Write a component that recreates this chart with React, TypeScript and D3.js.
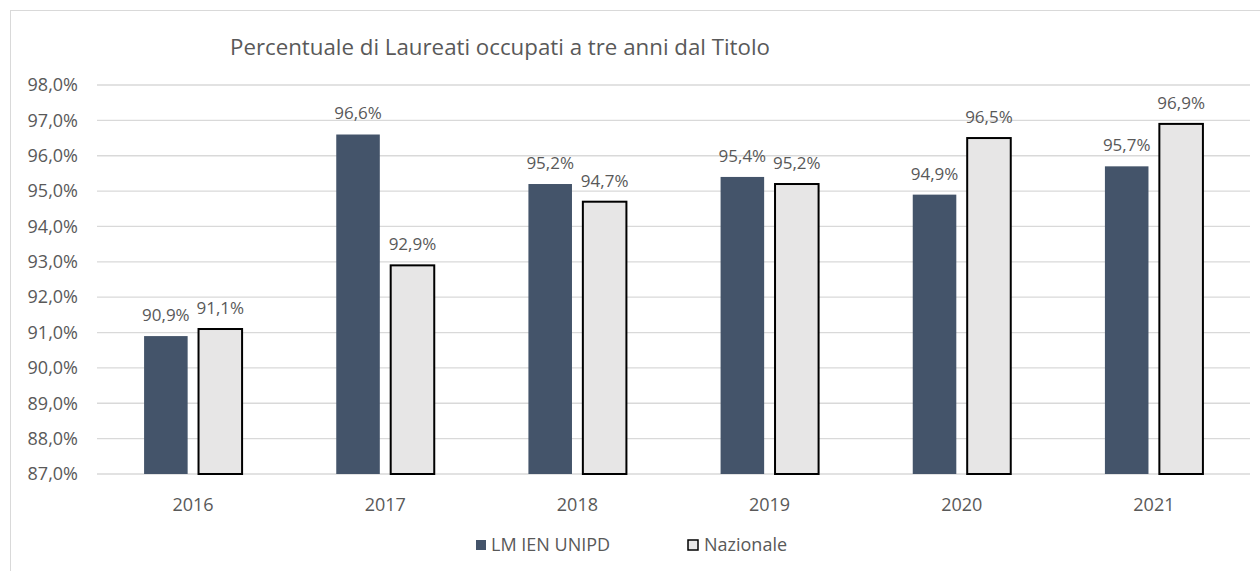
import React from "react";
import * as d3 from "d3";

const years = ["2016", "2017", "2018", "2019", "2020", "2021"];
const seriesNames = ["LM IEN UNIPD", "Nazionale"];
const unipd = [90.9, 96.6, 95.2, 95.4, 94.9, 95.7];
const nazionale = [91.1, 92.9, 94.7, 95.2, 96.5, 96.9];
const yTicks = [87, 88, 89, 90, 91, 92, 93, 94, 95, 96, 97, 98];
const title = "Percentuale di Laureati occupati a tre anni dal Titolo";

const W = 1260;
const H = 571;
const FONT = "'Open Sans', 'Noto Sans', sans-serif";
const TXT = "#595959";
const DARK = "#44546A";
const LIGHT = "#E7E6E6";

const fmt = (v: number) => v.toFixed(1).replace(".", ",") + "%";

export default function App() {
  const x0 = d3.scaleBand<string>().domain(years).range([97, 1250]).padding(0);
  const bw = x0.bandwidth();
  const x1 = d3
    .scaleBand<string>()
    .domain(seriesNames)
    .range([bw / 2 - 49, bw / 2 + 49])
    .paddingInner(0.2)
    .paddingOuter(0);
  const y = d3.scaleLinear().domain([87, 98]).range([474, 85]);
  const series = [unipd, nazionale];

  return (
    <svg
      width={W}
      height={H}
      style={{ position: "absolute", left: 0, top: 0, background: "#fff" }}
      fontFamily={FONT}
    >
      <rect x={10.5} y={10.5} width={1300} height={700} fill="#fff" stroke="#D9D9D9" strokeWidth={1} />
      <text x={500} y={47} dy="0.35em" textAnchor="middle" fontSize={22} fill={TXT} textLength={540} lengthAdjust="spacingAndGlyphs">
        {title}
      </text>
      {yTicks.map((t) => (
        <g key={t}>
          <line x1={97} x2={1250} y1={y(t)} y2={y(t)} stroke="#D9D9D9" strokeWidth={1.3} />
          <text x={78} y={y(t)} dy="0.35em" textAnchor="end" fontSize={18} fill={TXT}>
            {fmt(t)}
          </text>
        </g>
      ))}
      {years.map((yr, i) => (
        <g key={yr} transform={`translate(${x0(yr)},0)`}>
          {series.map((s, j) => {
            const bx = x1(seriesNames[j])!;
            const top = y(s[i]);
            return (
              <g key={j}>
                <rect
                  x={bx}
                  y={top}
                  width={x1.bandwidth()}
                  height={y(87) - top}
                  fill={j === 0 ? DARK : LIGHT}
                  stroke={j === 0 ? "none" : "#000"}
                  strokeWidth={j === 0 ? 0 : 2}
                />
                <text
                  x={bx + x1.bandwidth() / 2}
                  y={top - 21}
                  dy="0.35em"
                  textAnchor="middle"
                  fontSize={17}
                  fill={TXT}
                >
                  {fmt(s[i])}
                </text>
              </g>
            );
          })}
          <text x={bw / 2} y={505} dy="0.35em" textAnchor="middle" fontSize={18} fill={TXT}>
            {yr}
          </text>
        </g>
      ))}
      <g>
        <rect x={476} y={540} width={10} height={10} fill={DARK} />
        <text x={491} y={545} dy="0.35em" fontSize={18} fill={TXT}>
          {seriesNames[0]}
        </text>
        <rect x={688} y={540} width={10} height={10} fill={LIGHT} stroke="#000" strokeWidth={1.5} />
        <text x={704} y={545} dy="0.35em" fontSize={18} fill={TXT}>
          {seriesNames[1]}
        </text>
      </g>
    </svg>
  );
}
